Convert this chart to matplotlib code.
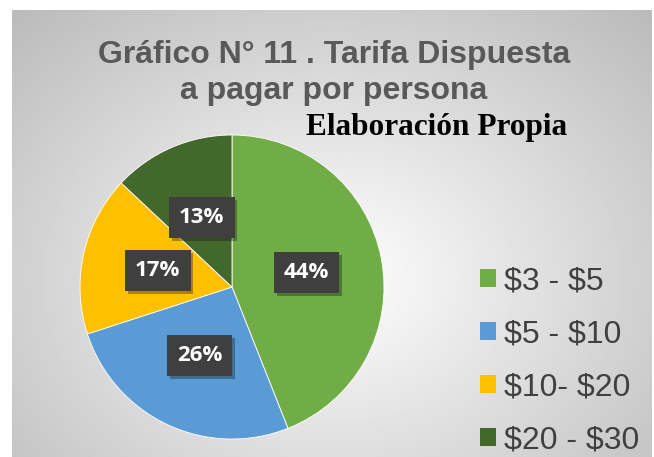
"""Gráfico N° 11 — Tarifa dispuesta a pagar por persona (pie)."""

import matplotlib
matplotlib.use("Agg")
import matplotlib.pyplot as plt
import matplotlib.patheffects as pe
import numpy as np

categorias = [r"\$3 - \$5", r"\$5 - \$10", r"\$10- \$20", r"\$20 - \$30"]
porcentajes = [44, 26, 17, 13]
colores = ["#70AD47", "#5B9BD5", "#FFC000", "#43682B"]

W, H = 654, 457
fig = plt.figure(figsize=(W / 100, H / 100), dpi=100)

# fondo: degradado radial gris (claro al centro, más oscuro en los bordes)
bg = fig.add_axes([12 / W, 0, 640 / W, 1 - 10 / H])
yy, xx = np.mgrid[0:1:200j, 0:1:300j]
r = np.sqrt(((xx - 0.5) / 0.7) ** 2 + ((yy - 0.6) / 0.8) ** 2)
bg.imshow(np.clip(1.0 - 0.26 * r, 0, 1), cmap="gray", vmin=0, vmax=1,
          aspect="auto", extent=[0, 1, 0, 1], interpolation="bilinear")
bg.set_axis_off()

ax = fig.add_axes([(232 - 152) / W, (H - 287 - 152) / H, 304 / W, 304 / H])
wedges, _, autotexts = ax.pie(
    porcentajes, colors=colores, startangle=90, counterclock=False,
    autopct="%d%%", pctdistance=0.5, radius=1.0,
    wedgeprops=dict(edgecolor="white", linewidth=0.6),
    textprops=dict(color="white", fontsize=16, fontweight="bold",
                   family=["Open Sans", "DejaVu Sans"]),
)
ax.set_xlim(-1.0, 1.0)
ax.set_ylim(-1.0, 1.0)
for t in autotexts:
    t.set_bbox(dict(boxstyle="square,pad=0.45", facecolor="#3F3F3F",
                    edgecolor="none"))
    t.get_bbox_patch().set_path_effects(
        [pe.SimplePatchShadow(offset=(2, -2), alpha=0.35), pe.Normal()])

fig.text(334 / W, 1 - 73 / H, "Gráfico N° 11 . Tarifa Dispuesta\na pagar por persona",
         ha="center", va="center", fontsize=23, fontweight="bold",
         color="#595959", family="Liberation Sans", linespacing=1.25)
fig.text(567 / W, 1 - 128 / H, "Elaboración Propia", ha="right", va="center",
         fontsize=22.5, fontweight="bold", color="black", family="Liberation Serif")

leg = fig.legend(wedges, categorias, loc="center left",
                 bbox_to_anchor=(480 / W, 1 - 361 / H), frameon=False,
                 borderpad=0, borderaxespad=0,
                 prop=dict(family="Liberation Sans", size=23),
                 handlelength=0.5, handleheight=0.5, handletextpad=0.25,
                 labelspacing=0.72, labelcolor="#404040")
for h in leg.legend_handles:
    h.set_edgecolor("none")

fig.savefig("out.png", dpi=100)
